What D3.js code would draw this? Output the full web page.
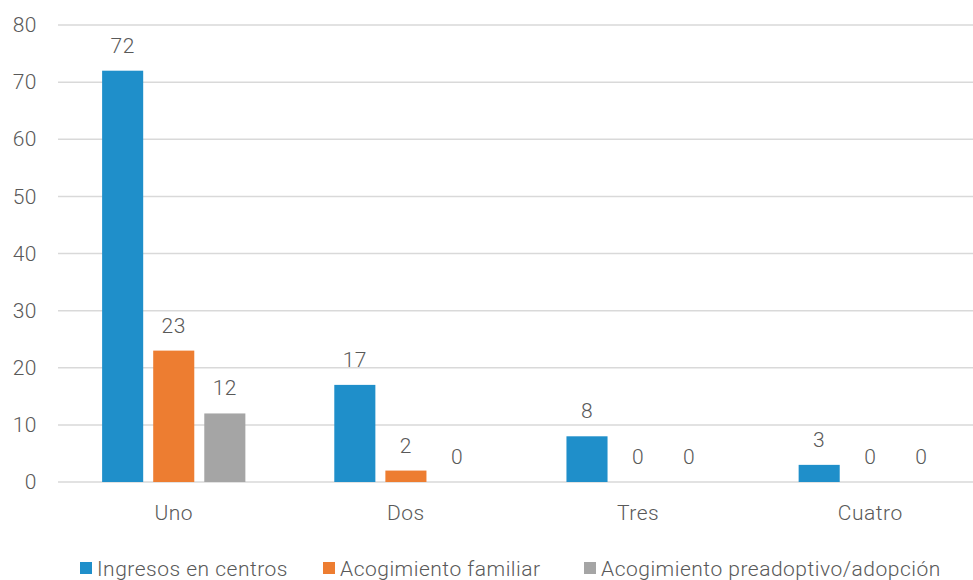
<!DOCTYPE html>
<html>
<head>
<meta charset="utf-8">
<script src="https://cdn.jsdelivr.net/npm/d3@7"></script>
<style>
  body { margin: 0; background: #fff; }
  text { font-family: Roboto, "Open Sans", sans-serif; font-weight: 300; fill: #595959; letter-spacing: 0.5px; }
</style>
</head>
<body>
<div id="chart"></div>
<script>
const categories = ["Uno", "Dos", "Tres", "Cuatro"];
const series = ["Ingresos en centros", "Acogimiento familiar", "Acogimiento preadoptivo/adopción"];
const ingresos = [72, 17, 8, 3];
const familiar = [23, 2, 0, 0];
const preadoptivo = [12, 0, 0, 0];
const yTicks = [0, 10, 20, 30, 40, 50, 60, 70, 80];

const values = [ingresos, familiar, preadoptivo];
const colors = ["#1f8fca", "#ed7d31", "#a5a5a5"];

const width = 973, height = 580;
const margin = { top: 25, right: -13, bottom: 98, left: 58 };

const svg = d3.select("#chart").append("svg")
  .attr("width", width)
  .attr("height", height);

const x = d3.scaleBand()
  .domain(categories)
  .range([margin.left, width - margin.right])
  .paddingInner(0.383)
  .paddingOuter(0.19);

const xs = d3.scaleBand()
  .domain(series)
  .range([0, x.bandwidth()])
  .paddingInner(0.196);

const y = d3.scaleLinear()
  .domain([0, 80])
  .range([height - margin.bottom, margin.top]);

// gridlines
svg.append("g")
  .selectAll("line")
  .data(yTicks)
  .enter().append("line")
    .attr("x1", margin.left)
    .attr("x2", width)
    .attr("y1", d => y(d))
    .attr("y2", d => y(d))
    .attr("stroke", "#d9d9d9")
    .attr("stroke-width", 1.5);

// y axis labels
const yAxis = svg.append("g")
  .attr("transform", `translate(${margin.left - 21},0)`)
  .call(d3.axisLeft(y).tickValues(yTicks).tickSize(0).tickPadding(0));
yAxis.select(".domain").remove();
yAxis.selectAll("text").style("font-size", "21px").attr("fill", "#595959");

// x axis labels
const xAxis = svg.append("g")
  .attr("transform", `translate(0,${y(0)})`)
  .call(d3.axisBottom(x).tickSize(0).tickPadding(23));
xAxis.select(".domain").remove();
xAxis.selectAll("text").style("font-size", "21px").attr("fill", "#595959");

// bars
const rows = [];
categories.forEach((c, i) => {
  series.forEach((s, j) => {
    rows.push({ cat: c, key: s, value: values[j][i], color: colors[j] });
  });
});

svg.append("g")
  .selectAll("rect")
  .data(rows)
  .enter().append("rect")
    .attr("x", d => x(d.cat) + xs(d.key))
    .attr("y", d => y(d.value))
    .attr("width", xs.bandwidth())
    .attr("height", d => y(0) - y(d.value))
    .attr("fill", d => d.color);

svg.append("g")
  .selectAll("text")
  .data(rows)
  .enter().append("text")
    .attr("text-anchor", "middle")
    .attr("x", d => x(d.cat) + xs(d.key) + xs.bandwidth() / 2)
    .attr("y", d => y(d.value) - 18)
    .style("font-size", "21px")
    .text(d => d.value);

// legend
const legendX = [80, 323, 584];
const legend = svg.append("g")
  .selectAll("g")
  .data(series)
  .enter().append("g")
    .attr("transform", (d, i) => `translate(${legendX[i]},562)`);

legend.append("rect")
  .attr("width", 12)
  .attr("height", 12)
  .attr("fill", (d, i) => colors[i]);

legend.append("text")
  .attr("x", 17)
  .attr("y", 14)
  .style("font-size", "21px")
  .text(d => d);
</script>
</body>
</html>
